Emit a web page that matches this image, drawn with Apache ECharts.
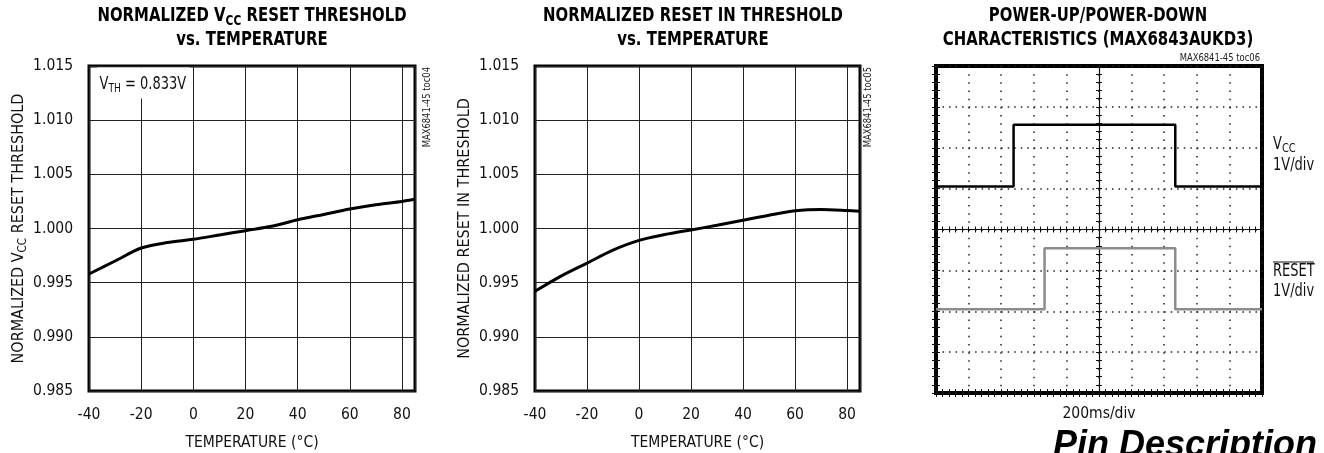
<!DOCTYPE html>
<html>
<head>
<meta charset="utf-8">
<title>MAX6841-45 typical operating characteristics</title>
<script src="https://cdn.jsdelivr.net/npm/echarts@6/dist/echarts.min.js"></script>
<style>
  html, body { margin: 0; padding: 0; background: #fff; }
  #chart { width: 1324px; height: 453px; }
</style>
</head>
<body>
<div id="chart"></div>
<script>
// temperature sweep (°C) shared by the two threshold plots
const temps = [-40, -30, -20, -10, 0, 10, 20, 30, 40, 50, 60, 70, 80, 85];
const vccThreshold = [0.9958, 0.9970, 0.9982, 0.9987, 0.9990, 0.9994, 0.9998, 1.0002, 1.0008, 1.0013, 1.0018, 1.0022, 1.0025, 1.0027];
const resetInThreshold = [0.9942, 0.9956, 0.9968, 0.9980, 0.9989, 0.99944, 0.99987, 1.0003, 1.00077, 1.00123, 1.00163, 1.00176, 1.00167, 1.0016];

// tick labels
const tempTicks = [-40, -20, 0, 20, 40, 60, 80];
const thresholdTicks = [0.985, 0.990, 0.995, 1.000, 1.005, 1.010, 1.015];

// scope capture: time in ms, level in divisions counted from the bottom edge
const vccTime = [0, 476, 476, 1468, 1468, 2000];
const vccLevel = [5.05, 5.05, 6.56, 6.56, 5.05, 5.05];
const resetTime = [0, 666, 666, 1468, 1468, 2000];
const resetLevel = [2.05, 2.05, 3.54, 3.54, 2.05, 2.05];

const FONT = '"Liberation Sans Narrow", "Arial Narrow", "DejaVu Sans Condensed", sans-serif';
const TXT = '#111';
// the datasheet face is narrower than what is installed, graphic text gets squeezed
const SQUEEZE = 0.85;

const chart = echarts.init(document.getElementById('chart'));

// axes of the two temperature plots
const tempAxis = (gridIndex) => ({
  type: 'value',
  gridIndex,
  min: tempTicks[0],
  max: 85,
  interval: tempTicks[1] - tempTicks[0],
  axisLine: { show: false },
  axisTick: { show: false },
  axisLabel: {
    color: TXT, fontFamily: FONT, fontSize: 15.5, margin: 16,
    formatter: (v) => (tempTicks.indexOf(v) >= 0 ? String(v) : '')
  },
  splitLine: { show: true, lineStyle: { color: '#222', width: 1 } },
  name: 'TEMPERATURE (°C)',
  nameLocation: 'middle',
  nameGap: 44,
  nameTextStyle: { color: TXT, fontFamily: FONT, fontSize: 15.5 }
})

const thresholdAxis = (gridIndex, name) => ({
  type: 'value',
  gridIndex,
  min: thresholdTicks[0],
  max: thresholdTicks[thresholdTicks.length - 1],
  interval: 0.005,
  axisLine: { show: false },
  axisTick: { show: false },
  axisLabel: {
    color: TXT, fontFamily: FONT, fontSize: 15.5, margin: 16,
    formatter: (v) => v.toFixed(3)
  },
  splitLine: { show: true, lineStyle: { color: '#222', width: 1 } },
  name,
  nameLocation: 'middle',
  nameGap: 60,
  nameTextStyle: {
    color: TXT, fontFamily: FONT, fontSize: 16, lineHeight: 20,
    rich: { sub: { fontFamily: FONT, fontSize: 11.5, lineHeight: 12, verticalAlign: 'bottom', color: TXT } }
  }
})

// scope axes: edge axes carry the inward minor ticks, center axes the cross ticks
const tickStyle = { color: '#111', width: 1 }
const scopeX = (position, offset, inside, extra) => Object.assign({
  type: 'value',
  gridIndex: 2,
  position,
  offset,
  min: 0,
  max: 2000,
  interval: 200,
  axisLabel: { show: false },
  axisLine: { show: false },
  splitLine: { show: false },
  axisTick: { show: true, inside, length: 4, lineStyle: tickStyle },
  minorTick: { show: true, splitNumber: 5, length: 4, lineStyle: tickStyle }
}, extra || {})

const scopeY = (position, offset, inside, extra) => Object.assign({
  type: 'value',
  gridIndex: 2,
  position,
  offset,
  min: 0,
  max: 8,
  interval: 1,
  axisLabel: { show: false },
  axisLine: { show: false },
  splitLine: { show: false },
  axisTick: { show: true, inside, length: 4, lineStyle: tickStyle },
  minorTick: { show: true, splitNumber: 5, length: 4, lineStyle: tickStyle }
}, extra || {})

const scopeW = 326
const scopeH = 327
const centerLine = { show: true, lineStyle: { color: '#111', width: 1.2 } }
const crossTick = { show: true, length: 3, lineStyle: tickStyle }
const crossMinor = { show: true, splitNumber: 5, length: 3, lineStyle: tickStyle }

const titleText = (x, text) => ({
  type: 'text',
  x,
  y: 4,
  z: 100,
  scaleX: SQUEEZE,
  style: {
    text,
    align: 'center',
    verticalAlign: 'top',
    fontFamily: FONT,
    fontWeight: 'bold',
    fontSize: 19.5,
    lineHeight: 24,
    fill: '#000',
    rich: {
      sub: { fontFamily: FONT, fontWeight: 'bold', fontSize: 14, lineHeight: 14, verticalAlign: 'bottom', fill: '#000' }
    }
  }
})

const plainText = (x, y, text, extra) => ({
  type: 'text',
  x,
  y,
  z: 100,
  scaleX: SQUEEZE,
  style: Object.assign({
    text,
    align: 'left',
    verticalAlign: 'middle',
    fontFamily: FONT,
    fontSize: 17,
    fill: TXT
  }, extra || {})
})

const tocText = (x, y, text, rotated) => ({
  type: 'text',
  x,
  y,
  z: 100,
  scaleX: SQUEEZE,
  rotation: rotated ? Math.PI / 2 : 0,
  style: {
    text,
    align: 'right',
    verticalAlign: 'middle',
    fontFamily: FONT,
    fontSize: 11,
    fill: '#222'
  }
})

const option = {
  animation: false,
  backgroundColor: '#fff',
  grid: [
    { left: 89, top: 66, width: 326, height: 325, show: true, borderColor: '#000', borderWidth: 3, backgroundColor: 'transparent', outerBoundsMode: 'none' },
    { left: 535, top: 66, width: 325, height: 325, show: true, borderColor: '#000', borderWidth: 3, backgroundColor: 'transparent', outerBoundsMode: 'none' },
    { left: 936, top: 66, width: scopeW, height: scopeH, show: true, borderColor: '#000', borderWidth: 4, backgroundColor: 'transparent', outerBoundsMode: 'none' }
  ],
  xAxis: [
    tempAxis(0),
    tempAxis(1),
    scopeX('bottom', 0, true, {
      splitLine: { show: true, lineStyle: { color: '#222', width: 1.5, type: [1.5, scopeH / 40 - 1.5] } },
      name: '200ms/div',
      nameLocation: 'middle',
      nameGap: 13,
      nameTextStyle: { color: TXT, fontFamily: FONT, fontSize: 15.5, verticalAlign: 'top' }
    }),
    scopeX('top', 0, true),
    scopeX('bottom', -scopeH / 2, false, { axisLine: centerLine, axisTick: crossTick, minorTick: crossMinor }),
    scopeX('top', -scopeH / 2, false, { axisTick: crossTick, minorTick: crossMinor })
  ],
  yAxis: [
    thresholdAxis(0, 'NORMALIZED V{sub|CC} RESET THRESHOLD'),
    thresholdAxis(1, 'NORMALIZED RESET IN THRESHOLD'),
    scopeY('left', 0, true, {
      splitLine: { show: true, lineStyle: { color: '#222', width: 1.5, type: [1.5, scopeW / 50 - 1.5] } }
    }),
    scopeY('right', 0, true),
    scopeY('left', -scopeW / 2, false, { axisLine: centerLine, axisTick: crossTick, minorTick: crossMinor }),
    scopeY('right', -scopeW / 2, false, { axisTick: crossTick, minorTick: crossMinor })
  ],
  series: [
    {
      type: 'line',
      xAxisIndex: 0,
      yAxisIndex: 0,
      data: temps.map((t, i) => [t, vccThreshold[i]]),
      smooth: 0.3,
      showSymbol: false,
      lineStyle: { color: '#000', width: 3 },
      z: 5
    },
    {
      type: 'line',
      xAxisIndex: 1,
      yAxisIndex: 1,
      data: temps.map((t, i) => [t, resetInThreshold[i]]),
      smooth: 0.3,
      showSymbol: false,
      lineStyle: { color: '#000', width: 3 },
      z: 5
    },
    {
      type: 'line',
      xAxisIndex: 2,
      yAxisIndex: 2,
      data: vccTime.map((t, i) => [t, vccLevel[i]]),
      showSymbol: false,
      lineStyle: { color: '#000', width: 2.5 },
      z: 5
    },
    {
      type: 'line',
      xAxisIndex: 2,
      yAxisIndex: 2,
      data: resetTime.map((t, i) => [t, resetLevel[i]]),
      showSymbol: false,
      lineStyle: { color: '#8c8c8c', width: 2.5 },
      z: 5
    }
  ],
  graphic: [
    titleText(252, 'NORMALIZED V{sub|CC} RESET THRESHOLD\nvs. TEMPERATURE'),
    titleText(693, 'NORMALIZED RESET IN THRESHOLD\nvs. TEMPERATURE'),
    titleText(1098, 'POWER-UP/POWER-DOWN\nCHARACTERISTICS (MAX6843AUKD3)'),
    plainText(97, 83, 'V{sub|TH} = 0.833V', {
      backgroundColor: '#fff',
      padding: [7, 4, 4, 3],
      rich: { sub: { fontFamily: FONT, fontSize: 12, lineHeight: 12, verticalAlign: 'bottom', fill: TXT } },
      lineHeight: 20
    }),
    tocText(427, 67, 'MAX6841-45 toc04', true),
    tocText(868, 67, 'MAX6841-45 toc05', true),
    tocText(1260, 58, 'MAX6841-45 toc06', false),
    plainText(1273, 145, 'V{sub|CC}', {
      lineHeight: 20,
      rich: { sub: { fontFamily: FONT, fontSize: 13, lineHeight: 12, verticalAlign: 'bottom', fill: TXT } }
    }),
    plainText(1273, 166, '1V/div'),
    plainText(1273, 272, 'RESET'),
    {
      type: 'line',
      z: 100,
      shape: { x1: 1273, y1: 262, x2: 1314, y2: 262 },
      style: { stroke: TXT, lineWidth: 1 }
    },
    plainText(1273, 292, '1V/div'),
    {
      type: 'text',
      x: 1053,
      y: 446,
      z: 100,
      style: {
        text: 'Pin Description',
        align: 'left',
        verticalAlign: 'middle',
        fontFamily: '"Liberation Sans", Arial, sans-serif',
        fontSize: 36,
        fontWeight: 'bold',
        fontStyle: 'italic',
        fill: '#000'
      }
    }
  ]
}

chart.setOption(option)
window.addEventListener('resize', () => chart.resize())
</script>
</body>
</html>
